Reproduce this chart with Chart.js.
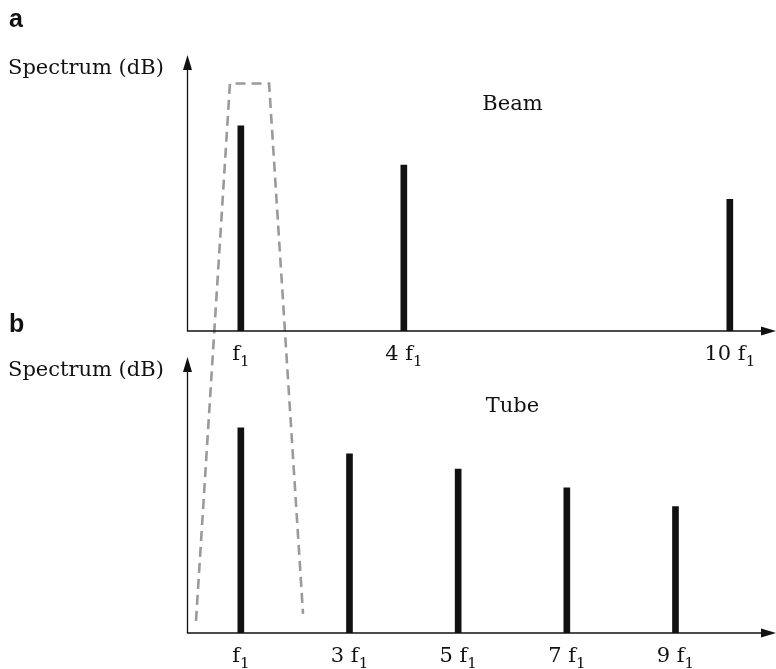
<!DOCTYPE html>
<html>
<head>
<meta charset="utf-8">
<script src="https://cdn.jsdelivr.net/npm/chart.js@4.4.1/dist/chart.umd.min.js"></script>
<style>
    html, body { margin: 0; padding: 0; background: #fff; }
    #wrap { position: relative; width: 776px; height: 669px; }
    #wrap canvas { position: absolute; left: 0; top: 0; }
</style>
</head>
<body>
<div id="wrap">
    <canvas id="beamChart" width="776" height="669"></canvas>
    <canvas id="tubeChart" width="776" height="669"></canvas>
</div>
<script>
// harmonic numbers (multiples of f1) and levels, 0..100 = full axis height
const beamHarmonics = [1, 4, 10];
const beamLevels = [74.3, 60.1, 47.7];
const beamTickLabels = ['f', '4 f', '10 f'];

const tubeHarmonics = [1, 3, 5, 7, 9];
const tubeLevels = [74.3, 64.9, 59.4, 52.6, 45.8];
const tubeTickLabels = ['f', '3 f', '5 f', '7 f', '9 f'];

// zoom outline around the f1 line, in beam-panel units (runs down into the tube panel)
const zoomOutlineX = [0.175, 0.80, 1.52, 2.145];
const zoomOutlineY = [-105.0, 89.7, 89.7, -102.5];

const X_MAX = 10.85;
const SERIF = '"DejaVu Serif", serif';

const arrowAxes = {
    id: 'arrowAxes',
    afterDraw(chart, args, opts) {
        const { ctx, chartArea: area, scales } = chart;
        const x0 = Math.round(area.left) + 0.5;
        const y0 = Math.round(area.bottom);
        ctx.save();
        ctx.strokeStyle = '#111';
        ctx.fillStyle = '#111';
        ctx.lineWidth = 1.3;

        // vertical axis with arrow
        ctx.beginPath();
        ctx.moveTo(x0, y0);
        ctx.lineTo(x0, area.top + 10);
        ctx.stroke();
        ctx.beginPath();
        ctx.moveTo(x0, area.top);
        ctx.lineTo(x0 - 4.5, area.top + 15);
        ctx.lineTo(x0 + 4.5, area.top + 15);
        ctx.closePath();
        ctx.fill();

        // horizontal axis with arrow
        ctx.beginPath();
        ctx.moveTo(x0 - 0.6, y0);
        ctx.lineTo(area.right - 10, y0);
        ctx.stroke();
        ctx.beginPath();
        ctx.moveTo(area.right, y0);
        ctx.lineTo(area.right - 15, y0 - 4.5);
        ctx.lineTo(area.right - 15, y0 + 4.5);
        ctx.closePath();
        ctx.fill();

        // harmonic labels: "n f" with a subscript 1
        ctx.textBaseline = 'alphabetic';
        ctx.textAlign = 'left';
        opts.ticks.forEach((v, i) => {
            const cx = scales.x.getPixelForValue(v);
            ctx.font = `21px ${SERIF}`;
            const main = opts.tickLabels[i];
            const wMain = ctx.measureText(main).width;
            ctx.font = `15px ${SERIF}`;
            const wSub = ctx.measureText('1').width;
            const left = cx - (wMain + wSub) / 2;
            ctx.font = `21px ${SERIF}`;
            ctx.fillText(main, left, y0 + 29);
            ctx.font = `15px ${SERIF}`;
            ctx.fillText('1', left + wMain, y0 + 35);
        });

        // axis title, panel name and letter
        ctx.font = `21px ${SERIF}`;
        ctx.fillText('Spectrum (dB)', 8, area.top + 19);
        ctx.textAlign = 'center';
        ctx.fillText(opts.title, scales.x.getPixelForValue(opts.titleAt[0]), scales.y.getPixelForValue(opts.titleAt[1]));
        ctx.textAlign = 'left';
        ctx.font = 'bold 25px "Liberation Sans", Arial, sans-serif';
        ctx.fillText(opts.letter, 9, opts.letterY);
        ctx.restore();
    }
};

const baseOptions = (padding, axesOpts) => ({
    responsive: false,
    animation: false,
    devicePixelRatio: 1,
    layout: { padding },
    plugins: {
        legend: { display: false },
        tooltip: { enabled: false },
        arrowAxes: axesOpts
    },
    scales: {
        x: { type: 'linear', min: 0, max: X_MAX, offset: false, display: false },
        y: { type: 'linear', min: 0, max: 100, display: false }
    }
});

const lineBars = (harmonics, levels) => ({
    type: 'bar',
    data: harmonics.map((h, i) => ({ x: h, y: levels[i] })),
    backgroundColor: '#111',
    borderWidth: 0,
    barThickness: 6,
    order: 2
});

new Chart(document.getElementById('beamChart'), {
    type: 'bar',
    data: {
        datasets: [
            lineBars(beamHarmonics, beamLevels),
            {
                type: 'line',
                data: zoomOutlineX.map((x, i) => ({ x, y: zoomOutlineY[i] })),
                borderColor: '#9a9a9a',
                borderWidth: 2.6,
                borderDash: [10, 6],
                pointRadius: 0,
                fill: false,
                tension: 0,
                clip: false,
                order: 1
            }
        ]
    },
    options: baseOptions(
        { left: 186.5, top: 55, right: 0, bottom: 338 },
        { ticks: beamHarmonics, tickLabels: beamTickLabels, title: 'Beam', titleAt: [6, 80], letter: 'a', letterY: 27 }
    ),
    plugins: [arrowAxes]
});

new Chart(document.getElementById('tubeChart'), {
    type: 'bar',
    data: { datasets: [lineBars(tubeHarmonics, tubeLevels)] },
    options: baseOptions(
        { left: 186.5, top: 357, right: 0, bottom: 36 },
        { ticks: tubeHarmonics, tickLabels: tubeTickLabels, title: 'Tube', titleAt: [6, 80], letter: 'b', letterY: 331.5 }
    ),
    plugins: [arrowAxes]
});
</script>
</body>
</html>
